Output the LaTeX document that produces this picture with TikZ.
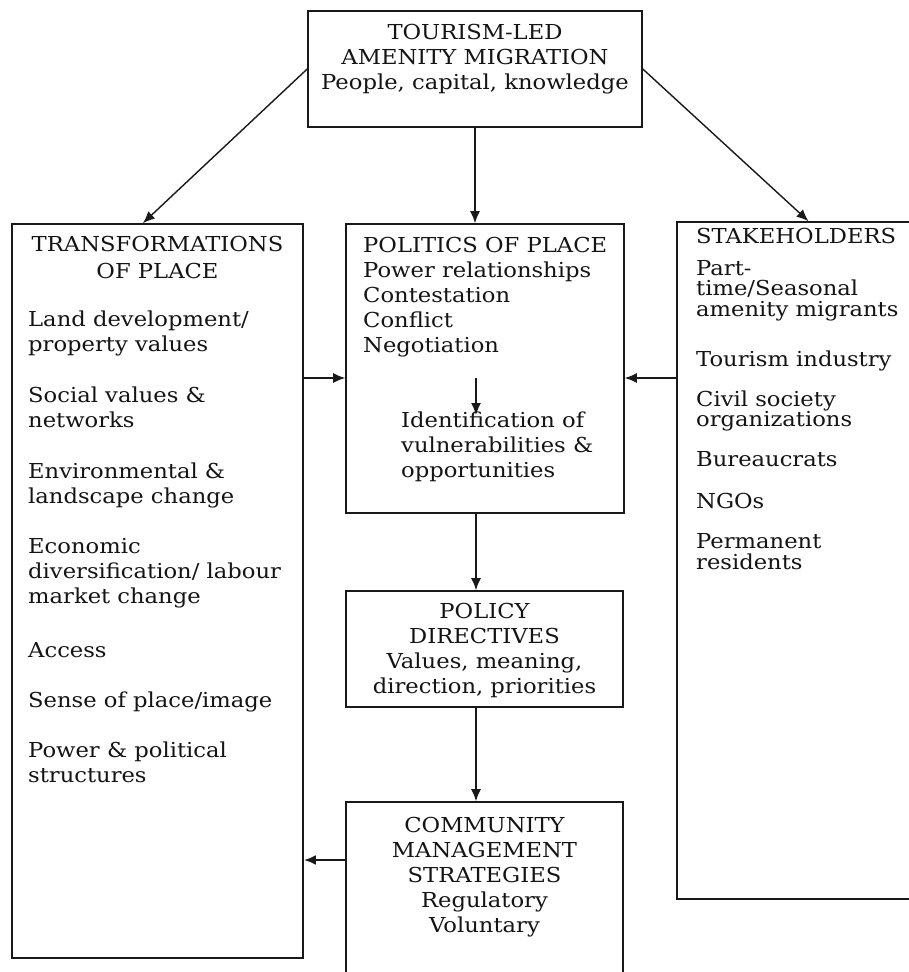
\documentclass[tikz,border=0pt]{standalone}
\usepackage{fontspec}
\setmainfont[FakeStretch=1.1]{DejaVu Serif}
\usetikzlibrary{arrows.meta,calc}
\tikzset{
  box/.style={draw=black!90, line width=1.6pt, rectangle, inner sep=0pt},
  txt/.style={inner sep=0pt, text=black!92, font=\fontsize{20.6}{25}\selectfont},
  stxt/.style={inner sep=0pt, text=black!92, font=\fontsize{20.6}{20.5}\selectfont},
  arr/.style={draw=black!90, line width=1.4pt, -{Latex[length=12pt,width=10pt]}},
  thickarr/.style={draw=black!90, line width=2.4pt, -{Latex[length=12pt,width=10pt]}}
}
\begin{document}
\begin{tikzpicture}[x=1pt,y=-1pt]
\useasboundingbox (0,0) rectangle (909,972);
\fill[white] (0,0) rectangle (909,972);
\clip (0,0) rectangle (909,972);

% boxes
\node[box, minimum width=334pt, minimum height=116pt] (top) at (475,69) {};
\node[box, minimum width=291pt, minimum height=734pt] (ltrans) at (157.5,591) {};
\node[box, minimum width=278pt, minimum height=289pt] (pol) at (485,368.5) {};
\node[box, minimum width=263pt, minimum height=677pt] (stakes) at (808.5,560.5) {};
\node[box, minimum width=277pt, minimum height=116pt] (policy) at (484.5,649) {};
\node[box, minimum width=277pt, minimum height=188pt] (comm) at (484.5,896) {};

% texts
\node[txt, align=center, anchor=north] (ttop) at (475,24)
  {TOURISM-LED\\AMENITY MIGRATION\\People, capital, knowledge};
\node[txt, align=center, anchor=north] (thead) at (157.5,236)
  {TRANSFORMATIONS\\[2pt]OF PLACE};
\node[txt, align=left, anchor=north west] (titems) at (28,311)
  {Land development/\\property values\\[26pt]
   Social values \&\\networks\\[26pt]
   Environmental \&\\landscape change\\[25pt]
   Economic\\diversification/ labour\\market change\\[29pt]
   Access\\[25pt]
   Sense of place/image\\[25pt]
   Power \& political\\structures};
\node[txt, align=left, anchor=north west] (ptext) at (363,237)
  {POLITICS OF PLACE\\Power relationships\\Contestation\\Conflict\\Negotiation};
\node[txt, align=left, anchor=north west] (pid) at (401,412)
  {Identification of\\vulnerabilities \&\\opportunities};
\node[stxt, align=left, anchor=north west] (stext) at (696,228)
  {STAKEHOLDERS\\[11.5pt]
   Part-\\time/Seasonal\\amenity migrants\\[29.5pt]
   Tourism industry\\[19.5pt]
   Civil society\\organizations\\[19.5pt]
   Bureaucrats\\[21pt]
   NGOs\\[20pt]
   Permanent\\residents};
\node[txt, align=center, anchor=north] (ptxt) at (484.5,603)
  {POLICY\\DIRECTIVES\\Values, meaning,\\direction, priorities};
\node[txt, align=center, anchor=north] (ctxt) at (484.5,817)
  {COMMUNITY\\MANAGEMENT\\STRATEGIES\\Regulatory\\Voluntary};

% helper coordinates
\coordinate (my) at (476,378);
\coordinate (myend) at (476,415);
\coordinate (cy) at (400,860);

% connectors
\draw[arr] (top.west) -- ($(ltrans.north west)!0.45!(ltrans.north east)$);
\draw[arr] (top.east) -- (stakes.north);
\draw[arr] (top.south) -- (top.south |- pol.north);
\draw[arr] (ltrans.east |- my) -- (pol.west |- my);
\draw[arr] (stakes.west |- my) -- (pol.east |- my);
\draw[arr] (my) -- (myend);
\draw[arr] (pol.south -| my) -- (policy.north -| my);
\draw[arr] (policy.south -| my) -- (comm.north -| my);
\draw[thickarr] (comm.west |- cy) -- (ltrans.east |- cy);
\end{tikzpicture}
\end{document}
